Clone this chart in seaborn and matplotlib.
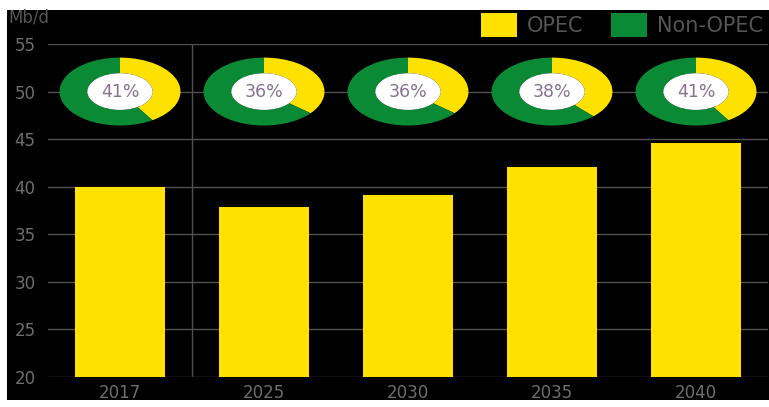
import matplotlib
matplotlib.use("Agg")
import matplotlib.pyplot as plt
import seaborn as sns
import pandas as pd

# OPEC crude and NGL supply, mb/d, and OPEC share of world liquids
years = ["2017", "2025", "2030", "2035", "2040"]
opec_supply = [40.0, 37.9, 39.1, 42.1, 44.6]
opec_share = [41, 36, 36, 38, 41]
y_ticks = [20, 25, 30, 35, 40, 45, 50, 55]

yellow = "#FFE100"
green = "#0B8A36"
grey_txt = "#6e6e6e"

sns.set_style("dark")
plt.rcParams["font.family"] = ["DejaVu Sans"]

W, H = 769, 407
fig = plt.figure(figsize=(W / 100, H / 100), dpi=100, facecolor="white")
# black panel (leaves a small white border top/left/bottom like the source)
fig.patches.append(plt.Rectangle((7 / W, 1 - 400 / H), 1, 390 / H, transform=fig.transFigure,
                                 facecolor="black", edgecolor="none", zorder=-5))

ax = fig.add_axes([48 / W, 1 - 377 / H, 720 / W, 333 / H])
ax.set_facecolor("black")

df = pd.DataFrame({"year": years, "supply": opec_supply})
sns.barplot(data=df, x="year", y="supply", color=yellow, saturation=1, width=0.63,
            linewidth=0, edgecolor="none", ax=ax, zorder=3)

ax.set_ylim(20, 55)
ax.set_xlim(-0.5, len(years) - 0.5)
ax.set_yticks(y_ticks)
ax.set_xlabel("")
ax.set_ylabel("")
ax.grid(axis="y", color="#505050", linewidth=1)
ax.grid(axis="x", visible=False)
ax.axvline(0.5, color="#505050", linewidth=1, zorder=1)
for s in ax.spines.values():
    s.set_visible(False)
ax.tick_params(axis="y", length=0, pad=9, labelsize=12, labelcolor=grey_txt)
ax.tick_params(axis="x", length=0, pad=5, labelsize=12, labelcolor=grey_txt)

# share donuts
for i, share in enumerate(opec_share):
    ins = ax.inset_axes([i - 0.42, 50 - 3.57, 0.84, 7.14], transform=ax.transData)
    ins.pie([share, 100 - share], colors=[yellow, green], startangle=90, counterclock=False,
            radius=1, wedgeprops=dict(width=0.46, edgecolor="none"))
    ins.add_patch(plt.Circle((0, 0), 0.54, facecolor="white", edgecolor="none"))
    ins.text(0, 0, f"{share}%", ha="center", va="center", fontsize=12.5, color="#86728f")
    ins.set_aspect("auto")
    ins.set_xlim(-1, 1)
    ins.set_ylim(-1, 1)
    ins.axis("off")

fig.text(8 / W, 1 - 18 / H, "Mb/d", ha="left", va="center", fontsize=12, color="#555555")

handles = [plt.Rectangle((0, 0), 1, 1, facecolor=yellow, edgecolor="none"),
           plt.Rectangle((0, 0), 1, 1, facecolor=green, edgecolor="none")]
fig.legend(handles, ["OPEC", "Non-OPEC"], loc="center left", bbox_to_anchor=(481 / W, 1 - 25 / H),
           ncol=2, frameon=False, fontsize=15, labelcolor="#555555", borderpad=0, borderaxespad=0,
           handlelength=1.73, handleheight=1.35, handletextpad=0.48, columnspacing=1.3)

fig.savefig("out.png", dpi=100, facecolor="white")
